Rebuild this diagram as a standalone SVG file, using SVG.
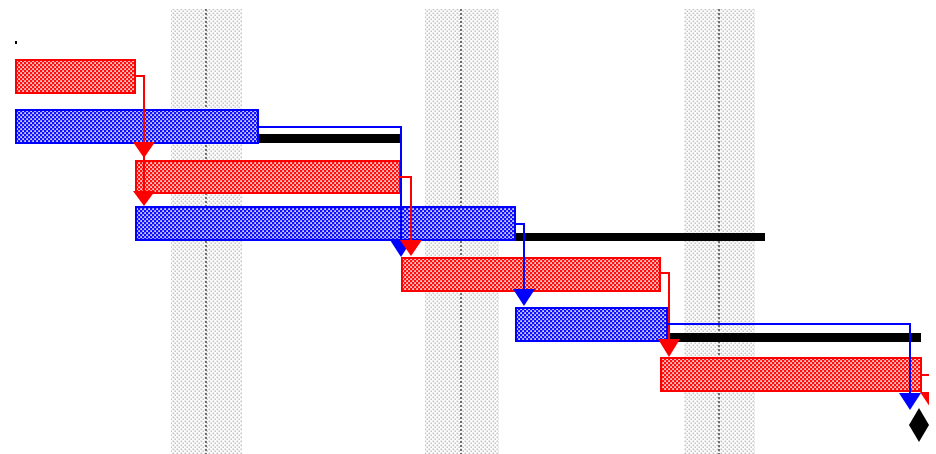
<svg xmlns="http://www.w3.org/2000/svg" width="936" height="454" viewBox="0 0 936 454">
<defs>
<pattern id="pr" width="4" height="4" patternUnits="userSpaceOnUse">
<rect width="4" height="4" fill="#ff1010"/>
<rect x="0.3" y="0.3" width="1.6" height="1.6" fill="#fff"/>
<rect x="2.3" y="2.3" width="1.6" height="1.6" fill="#fff"/>
</pattern>
<pattern id="pb" width="4" height="4" patternUnits="userSpaceOnUse">
<rect width="4" height="4" fill="#1010ff"/>
<rect x="0.3" y="0.3" width="1.6" height="1.6" fill="#fff"/>
<rect x="2.3" y="2.3" width="1.6" height="1.6" fill="#fff"/>
</pattern>
<pattern id="pg" width="4" height="4" patternUnits="userSpaceOnUse">
<rect width="4" height="4" fill="#fff"/>
<rect x="0.5" y="0.5" width="1.7" height="1.7" fill="#c4c4c4"/>
<rect x="2.5" y="2.5" width="1.7" height="1.7" fill="#c4c4c4"/>
</pattern>
<clipPath id="cl"><rect x="0" y="0" width="929" height="454"/></clipPath>
<style>
.band{fill:url(#pg)}
.mid{stroke:#707070;stroke-width:2;stroke-dasharray:2 2;fill:none}
.red{fill:url(#pr);stroke:#ff0000;stroke-width:2}
.blue{fill:url(#pb);stroke:#0000ff;stroke-width:2}
.slack{fill:#000}
.lr{stroke:#ff0000;stroke-width:2;fill:none}
.lb{stroke:#0000ff;stroke-width:2;fill:none}
.ar{fill:#ff0000}
.ab{fill:#0000ff}
</style>
</defs>
<rect width="936" height="454" fill="#fff"/>
<g id="bands">
<rect class="band" x="171" y="9" width="71" height="445"/>
<line class="mid" x1="206" y1="9" x2="206" y2="454"/>
<rect class="band" x="425" y="9" width="74" height="445"/>
<line class="mid" x1="461" y1="9" x2="461" y2="454"/>
<rect class="band" x="684" y="9" width="71" height="445"/>
<line class="mid" x1="719" y1="9" x2="719" y2="454"/>
</g>
<rect x="15" y="41" width="2" height="3" fill="#000"/>
<g id="slack">
<rect class="slack" x="258" y="134" width="142" height="9"/>
<rect class="slack" x="515" y="233" width="250" height="8"/>
<rect class="slack" x="667" y="333" width="254" height="9"/>
</g>
<g id="task1"><rect class="red" x="16" y="60" width="119" height="33"/></g>
<g id="task2"><rect class="blue" x="16" y="110" width="242" height="33"/></g>
<g id="task3"><rect class="red" x="136" y="161" width="264" height="32"/></g>
<g id="task4"><rect class="blue" x="136" y="207" width="379" height="33"/></g>
<g id="task5"><rect class="red" x="402" y="258" width="258" height="33"/></g>
<g id="task6"><rect class="blue" x="516" y="308" width="151" height="33"/></g>
<g id="task7"><rect class="red" x="661" y="358" width="260" height="33"/></g>
<g id="connectors" clip-path="url(#cl)">
<polyline class="lr" points="135,76 144,76 144,200"/>
<polygon class="ar" points="133,142 155,142 144,158"/>
<polygon class="ar" points="133,191 155,191 144,206"/>
<polyline class="lb" points="258,127 401,127 401,250"/>
<polygon class="ab" points="390,240 412,240 401,257"/>
<polyline class="lr" points="400,177 411,177 411,248"/>
<polygon class="ar" points="400,240 422,240 411,256"/>
<polyline class="lb" points="515,224 524,224 524,298"/>
<polygon class="ab" points="513,289 535,289 524,306"/>
<polyline class="lr" points="660,273 669,273 669,350"/>
<polygon class="ar" points="658,339 680,339 669,357"/>
<polyline class="lb" points="667,324 910,324 910,402"/>
<polygon class="ab" points="899,393 921,393 910,410"/>
<polyline class="lr" points="921,375 930,375 930,400"/>
<polygon class="ar" points="920,392 940,392 930,407"/>
</g>
<g id="milestone" clip-path="url(#cl)">
<polygon fill="#000" points="919,408 929,425 919,442 909,425"/>
</g>
</svg>
